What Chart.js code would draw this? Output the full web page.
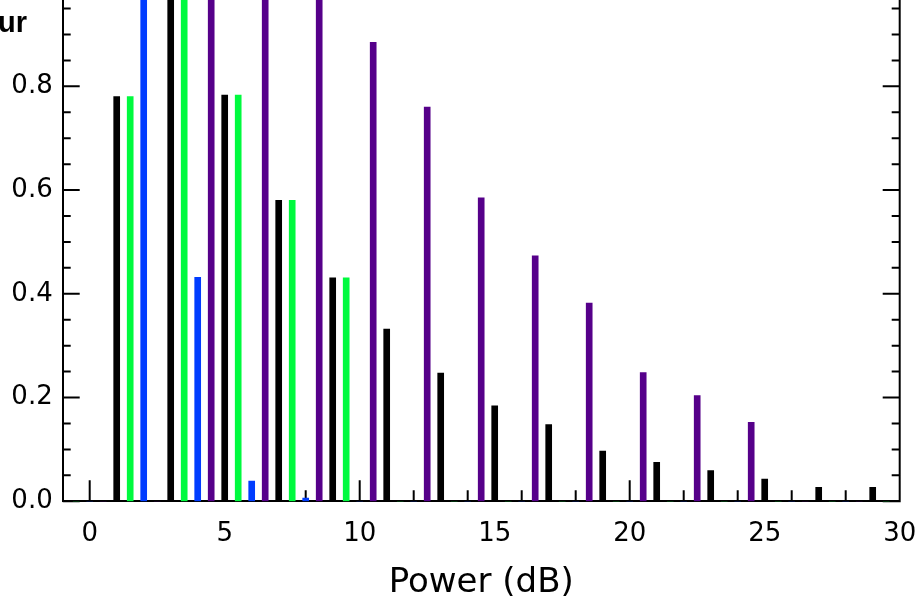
<!DOCTYPE html>
<html>
<head>
<meta charset="utf-8">
<script src="https://cdn.jsdelivr.net/npm/chart.js@4.4.0/dist/chart.umd.min.js"></script>
<style>
    html, body { margin: 0; padding: 0; background: #ffffff; }
    #myChart { display: block; }
</style>
</head>
<body>
<canvas id="myChart" width="922" height="615"></canvas>
<script>
// bin centres (dB) and fraction for each series
const blackPower = [1, 3, 5, 7, 9, 11, 13, 15, 17, 19, 21, 23, 25, 27, 29];
const blackFrac = [0.780, 1.0, 0.783, 0.580, 0.431, 0.332, 0.247, 0.184, 0.148, 0.097, 0.075, 0.059, 0.043, 0.027, 0.027];

const greenPower = [-0.5, 1.5, 3.5, 5.5, 7.5, 9.5, 11.5, 13.5, 15.5, 17.5, 19.5, 21.5, 23.5, 25.5, 27.5, 29.5];
const greenFrac = [0, 0.780, 1.0, 0.783, 0.580, 0.431, 0, 0, 0, 0, 0, 0, 0, 0, 0, 0];

const bluePower = [0, 2, 4, 6, 8, 10, 12, 14, 16, 18, 20, 22, 24, 26, 28];
const blueFrac = [0, 1.0, 0.432, 0.039, 0.006, 0, 0, 0, 0, 0, 0, 0, 0, 0, 0];

const purplePower = [0.5, 2.5, 4.5, 6.5, 8.5, 10.5, 12.5, 14.5, 16.5, 18.5, 20.5, 22.5, 24.5, 26.5, 28.5];
const purpleFrac = [0, 0, 1.0, 1.0, 1.0, 0.885, 0.760, 0.585, 0.473, 0.382, 0.248, 0.204, 0.152, 0, 0];

const yTickLabels = ["0.0", "0.2", "0.4", "0.6", "0.8"];
const xTickLabels = ["0", "5", "10", "15", "20", "25", "30"];

function toPoints(xs, ys) {
    return xs.map((x, i) => ({ x: x, y: ys[i] }));
}

// inward tick marks on left, right and bottom, plus right frame line
const frameTicks = {
    id: 'frameTicks',
    beforeDatasetsDraw(chart) {
        const ctx = chart.ctx;
        const area = chart.chartArea;
        const xs = chart.scales.x;
        const ys = chart.scales.y;
        ctx.save();
        ctx.strokeStyle = '#000000';
        ctx.lineWidth = 2;
        ctx.beginPath();
        for (let v = 0; v <= 0.96; v += 0.05) {
            let y = ys.getPixelForValue(v);
            let major = Math.abs(v / 0.2 - Math.round(v / 0.2)) < 0.01;
            let len = major ? 17 : 8;
            ctx.moveTo(area.left, y);
            ctx.lineTo(area.left + len, y);
            ctx.moveTo(area.right, y);
            ctx.lineTo(area.right - len, y);
        }
        for (let v = 0; v <= 30; v++) {
            let x = xs.getPixelForValue(v);
            let len = (v % 5 == 0) ? 21 : 11;
            ctx.moveTo(x, area.bottom);
            ctx.lineTo(x, area.bottom - len);
        }
        ctx.moveTo(area.right, area.top);
        ctx.lineTo(area.right, area.bottom + 1);
        ctx.stroke();
        ctx.restore();
    },
    afterDraw(chart) {
        const ctx = chart.ctx;
        ctx.save();
        ctx.fillStyle = '#000000';
        ctx.font = 'bold 29px "Liberation Sans"';
        ctx.textAlign = 'left';
        ctx.textBaseline = 'alphabetic';
        ctx.fillText('ur', -2, 32);
        ctx.restore();
    }
};

new Chart("myChart", {
    type: "bar",
    data: {
        datasets: [
            { data: toPoints(blackPower, blackFrac), backgroundColor: "#000000" },
            { data: toPoints(greenPower, greenFrac), backgroundColor: "#00fa3e" },
            { data: toPoints(bluePower, blueFrac), backgroundColor: "#003cff" },
            { data: toPoints(purplePower, purpleFrac), backgroundColor: "#56008a" }
        ]
    },
    options: {
        responsive: false,
        animation: false,
        devicePixelRatio: 1,
        layout: { padding: { left: 0, right: 22.3, top: 0, bottom: 0 } },
        datasets: {
            bar: { barThickness: 6, grouped: false, borderWidth: 0 }
        },
        plugins: {
            legend: { display: false },
            tooltip: { enabled: false },
            title: { display: false }
        },
        scales: {
            x: {
                type: 'linear',
                min: -1,
                max: 30,
                offset: false,
                grid: { display: false, offset: false, drawTicks: false },
                border: { display: true, color: '#000000', width: 2 },
                afterFit(scale) {
                    scale.height = 113.7;
                    scale.paddingLeft = 0;
                    scale.paddingRight = 0;
                },
                afterBuildTicks(scale) {
                    scale.ticks = xTickLabels.map(t => ({ value: Number(t) }));
                },
                ticks: {
                    color: '#000000',
                    font: { family: 'DejaVu Sans', size: 26 },
                    padding: 17,
                    maxRotation: 0,
                    callback: (v) => String(v)
                },
                title: {
                    display: true,
                    text: 'Power (dB)',
                    color: '#000000',
                    font: { family: 'DejaVu Sans', size: 34 },
                    padding: { top: 0, bottom: 11 }
                }
            },
            y: {
                min: 0,
                max: 0.9664,
                grid: { display: false, drawTicks: false },
                border: { display: true, color: '#000000', width: 2 },
                afterFit(scale) {
                    scale.width = 62.7;
                    scale.paddingTop = 0;
                    scale.paddingBottom = 0;
                },
                afterBuildTicks(scale) {
                    scale.ticks = yTickLabels.map(t => ({ value: Number(t) }));
                },
                ticks: {
                    color: '#000000',
                    font: { family: 'DejaVu Sans', size: 26 },
                    padding: 10,
                    callback: (v) => v.toFixed(1)
                }
            }
        }
    },
    plugins: [frameTicks]
});
</script>
</body>
</html>
